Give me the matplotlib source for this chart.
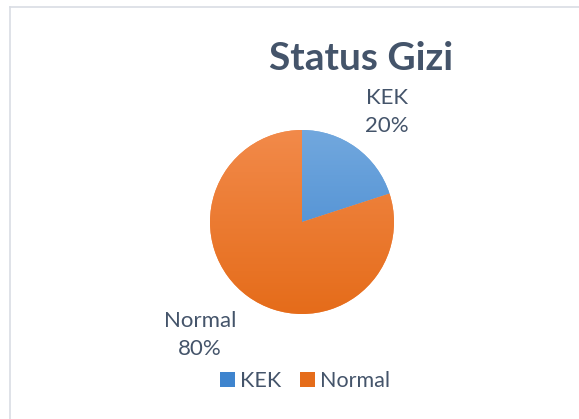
import numpy as np
import matplotlib.pyplot as plt
from matplotlib.colors import LinearSegmentedColormap
from matplotlib.patches import Patch

plt.rcParams['font.family'] = ['Lato', 'DejaVu Sans']

title = "Status Gizi"
categories = ["KEK", "Normal"]
values = [20, 80]
top_colors = ["#72A8DE", "#F28A4A"]
bottom_colors = ["#3E84CE", "#E56C1A"]
text_color = "#44546A"

W, H = 579, 419
fig = plt.figure(figsize=(W / 100, H / 100), dpi=100)

# light frame (top and left edges visible)
fig.add_artist(plt.Line2D([10 / W, 1], [1 - 7 / H, 1 - 7 / H], color="#D9DDE4", lw=1.2))
fig.add_artist(plt.Line2D([10 / W, 10 / W], [0, 1 - 7 / H], color="#D9DDE4", lw=1.2))

# pie axes
cx, cy, r = 302, 222, 92
ax = fig.add_axes([(cx - r) / W, (H - cy - r) / H, 2 * r / W, 2 * r / H])
wedges, _ = ax.pie(values, startangle=90, counterclock=False, colors=top_colors,
                   wedgeprops=dict(linewidth=0))
ax.set_aspect("equal")
ax.axis("off")

# vertical gradient fill in each slice
grad = np.linspace(0, 1, 256).reshape(-1, 1)
for w, c0, c1 in zip(wedges, top_colors, bottom_colors):
    cmap = LinearSegmentedColormap.from_list("g", [c0, c1])
    im = ax.imshow(grad, cmap=cmap, extent=[-1, 1, -1, 1], origin="upper",
                   aspect="auto", zorder=w.get_zorder() + 0.1)
    im.set_clip_path(w)

ax.set_xlim(-1, 1)
ax.set_ylim(-1, 1)

# data labels
label_pos = [(387, 112), (200, 335)]
for cat, v, (px, py) in zip(categories, values, label_pos):
    fig.text(px / W, 1 - py / H, f"{cat}\n{v}%", ha="center", va="center",
             fontsize=16, color=text_color, linespacing=1.45)

fig.text(361 / W, 1 - 58 / H, title, ha="center", va="center",
         fontsize=28, fontweight="bold", color=text_color)

handles = [Patch(facecolor=c, edgecolor="none") for c in bottom_colors]
fig.legend(handles, categories, loc="center", bbox_to_anchor=(305 / W, 1 - 381 / H),
           ncol=2, frameon=False, fontsize=15.5, labelcolor=text_color,
           handlelength=0.7, handleheight=0.7, handletextpad=0.2, columnspacing=0.9)

fig.savefig("out.png", dpi=100, facecolor="white")
